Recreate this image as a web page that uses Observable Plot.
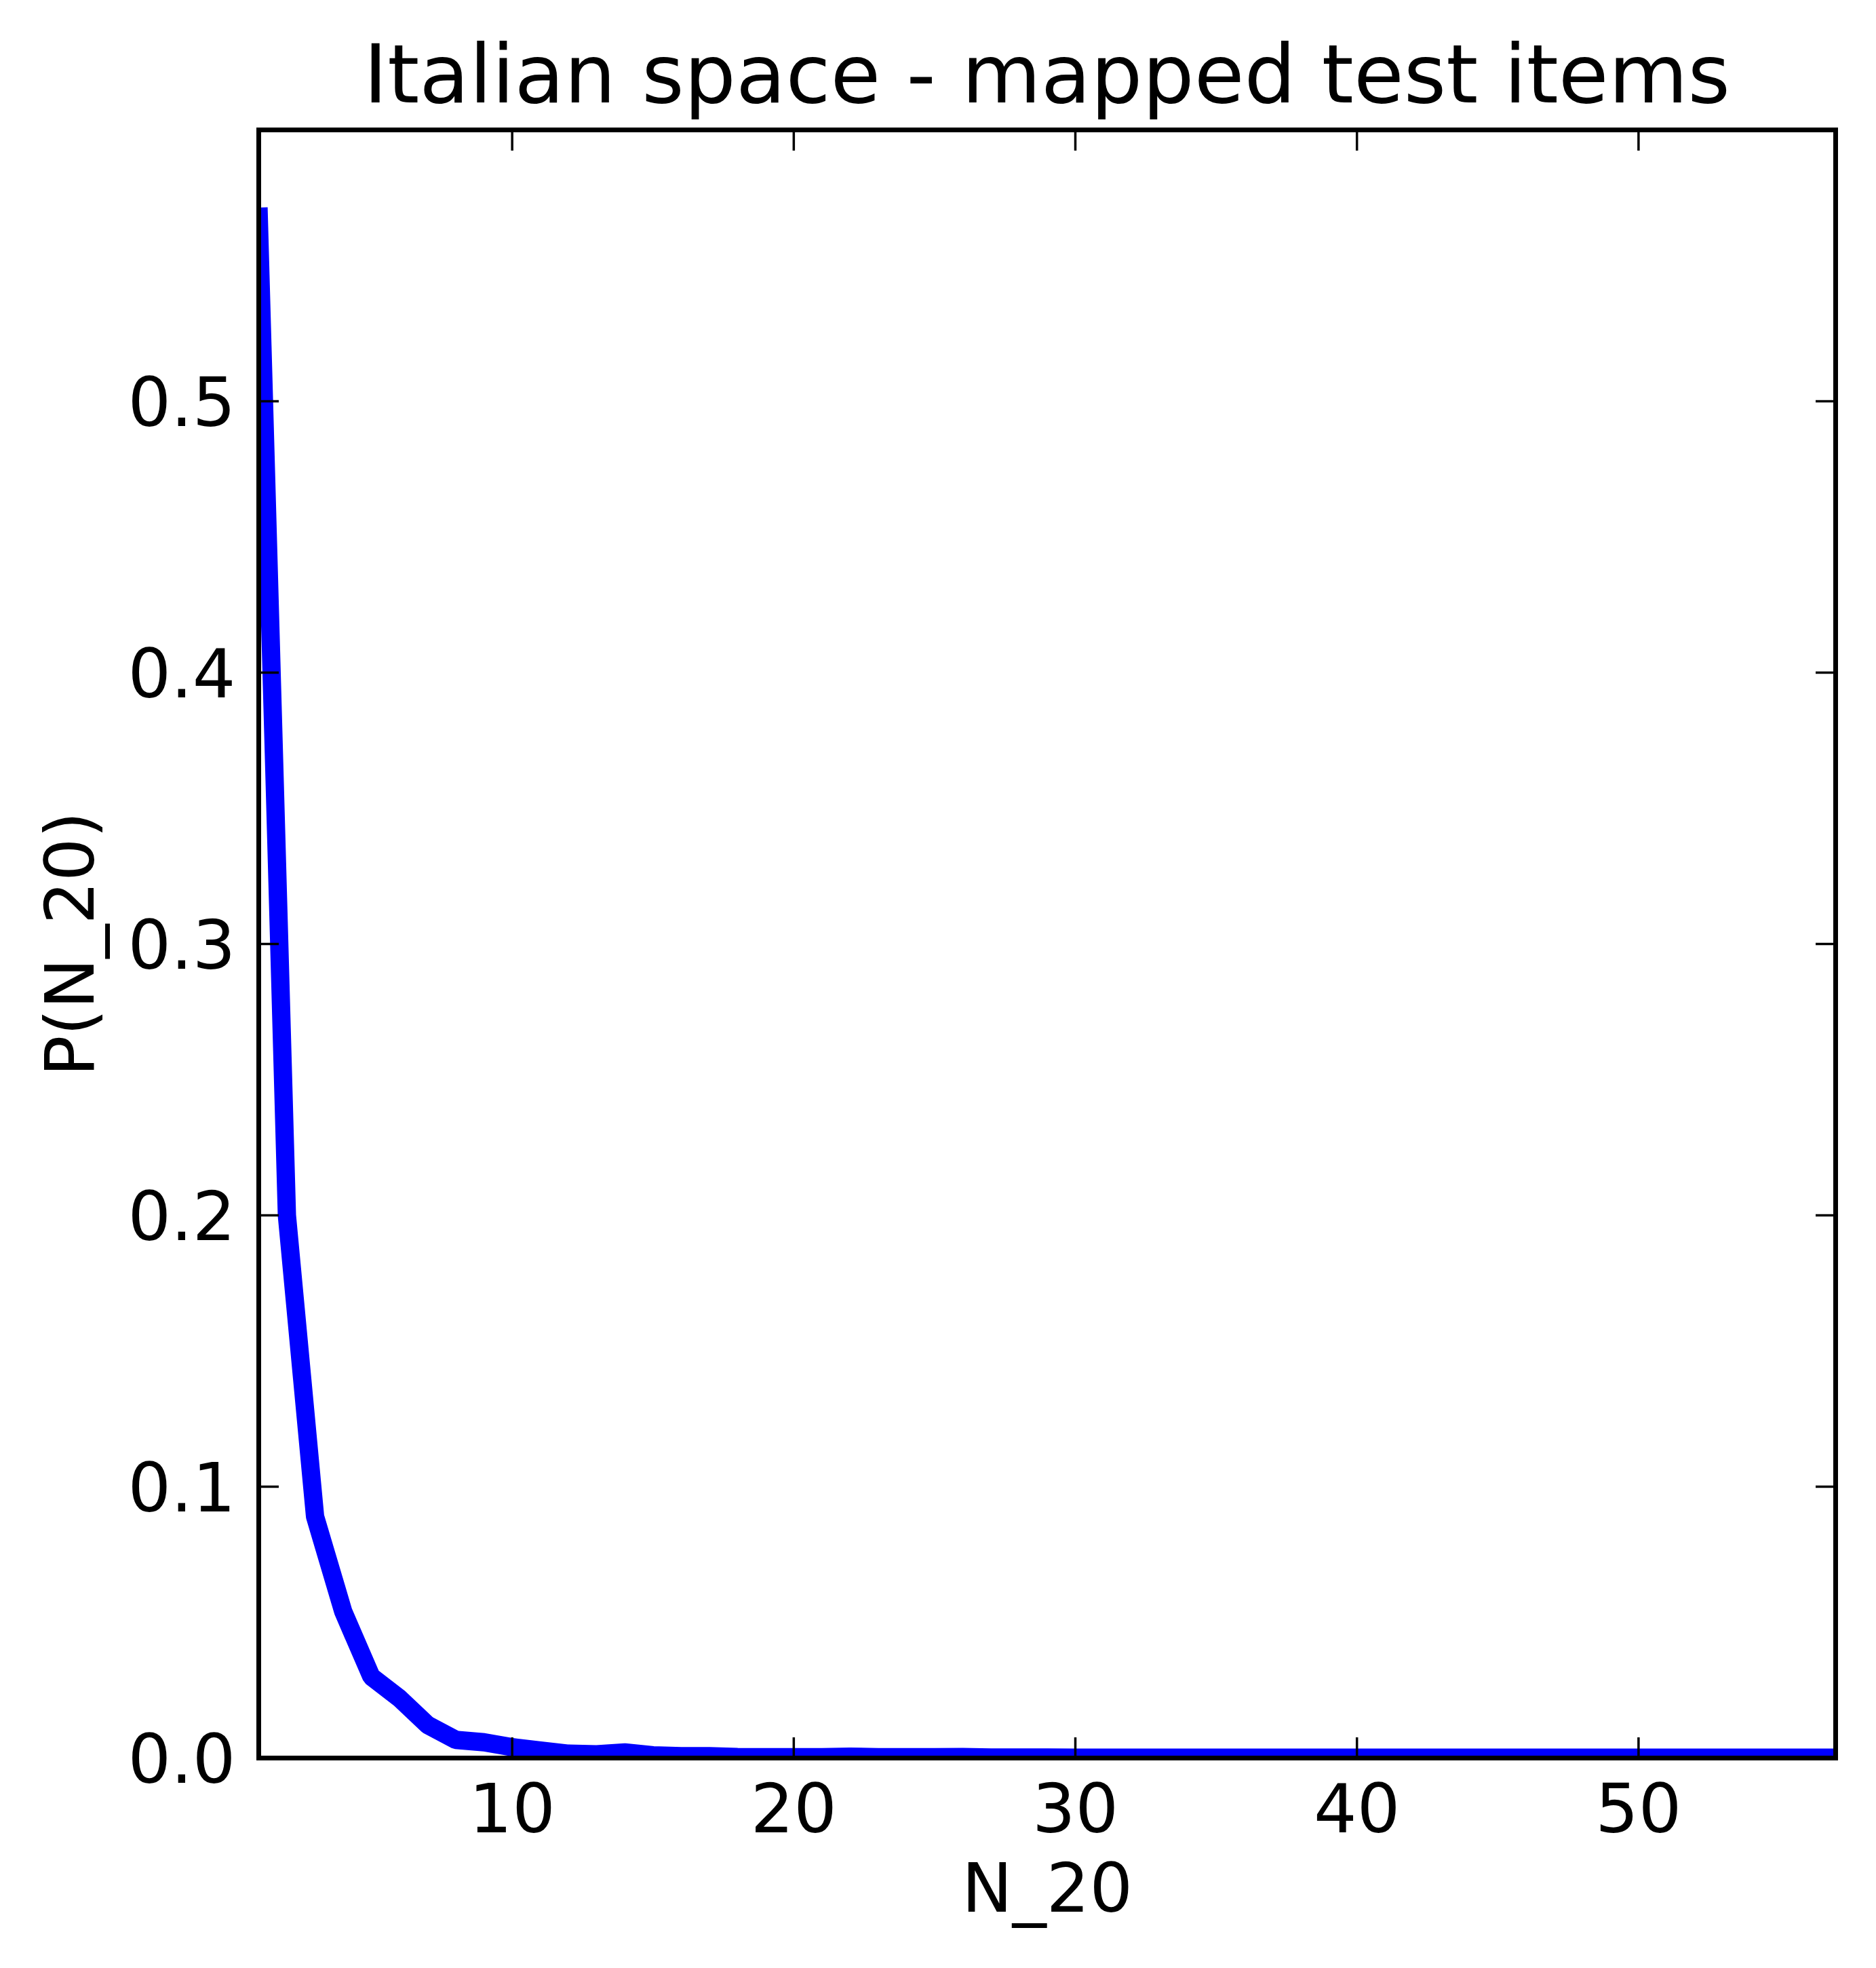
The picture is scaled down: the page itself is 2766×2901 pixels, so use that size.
<!DOCTYPE html>
<html>
<head>
<meta charset="utf-8">
<script src="https://cdn.jsdelivr.net/npm/d3@7"></script>
<script src="https://cdn.jsdelivr.net/npm/@observablehq/plot@0.6"></script>
<style>
  html, body { margin: 0; padding: 0; background: white; }
  #wrap { width: 2766px; }
  #title {
    box-sizing: border-box;
    width: 2766px;
    height: 170px;
    padding: 50px 60px 0 381px;
    font-family: "DejaVu Sans", sans-serif;
    font-size: 120px;
    line-height: 120px;
    text-align: center;
    color: black;
    white-space: nowrap;
  }
</style>
</head>
<body>
<div id="wrap">
  <div id="title">Italian space - mapped test items</div>
  <div id="chart"></div>
</div>
<script>
// ---- data ----
const nValues = [
  1, 2, 3, 4, 5, 6, 7, 8, 9, 10,
  11, 12, 13, 14, 15, 16, 17, 18, 19, 20,
  21, 22, 23, 24, 25, 26, 27, 28, 29, 30,
  31, 32, 33, 34, 35, 36, 37, 38, 39, 40,
  41, 42, 43, 44, 45, 46, 47, 48, 49, 50,
  51, 52, 53, 54, 55, 56, 57
];
const pValues = [
  0.568, 0.200, 0.089, 0.054, 0.030, 0.022, 0.0122, 0.0067, 0.0058, 0.0040,
  0.0028, 0.0016, 0.0014, 0.0021, 0.0010, 0.0007, 0.0007, 0.0004, 0.0003, 0.0003,
  0.0003, 0.0005, 0.0003, 0.0003, 0.0003, 0.0004, 0.0002, 0.0002, 0.0002, 0.0001,
  0.0001, 0.0001, 0.0001, 0.0001, 0.0001, 0.0001, 0.0001, 0.0001, 0.0001, 0.0001,
  0.0001, 0.0001, 0.0001, 0.0001, 0.0001, 0.0001, 0.0001, 0.0001, 0.0001, 0.0001,
  0.0001, 0.0001, 0.0001, 0.0001, 0.0001, 0.0001, 0.0001
];
const xTicks = [10, 20, 30, 40, 50];
const yTicks = [0, 0.1, 0.2, 0.3, 0.4, 0.5];
const xDomain = [1, 57];
const yDomain = [0, 0.6];
const xLabel = "N_20";
const yLabel = "P(N_20)";

const data = nValues.map((n, i) => ({n, p: pValues[i]}));

const FONT = "DejaVu Sans";
const FS = 100;

const chart = Plot.plot({
  width: 2766,
  height: 2731,
  marginTop: 21,
  marginBottom: 310,
  marginLeft: 381,
  marginRight: 60,
  style: {fontFamily: FONT, fontSize: FS + "px", background: "white", color: "black", overflow: "visible"},
  x: {domain: xDomain},
  y: {domain: yDomain},
  marks: [
    Plot.line(data, {
      x: "n", y: "p",
      stroke: "#0000ff", strokeWidth: 27,
      strokeLinejoin: "miter", strokeLinecap: "square",
      clip: true
    }),
    // inward ticks on all four sides
    Plot.axisX(xTicks, {anchor: "bottom", tickSize: -30, strokeWidth: 3.5, fill: "none", label: null}),
    Plot.axisX(xTicks, {anchor: "top", tickSize: -30, strokeWidth: 3.5, fill: "none", label: null}),
    Plot.axisY(yTicks, {anchor: "left", tickSize: -30, strokeWidth: 3.5, fill: "none", label: null}),
    Plot.axisY(yTicks, {anchor: "right", tickSize: -30, strokeWidth: 3.5, fill: "none", label: null}),
    // tick labels
    Plot.axisX(xTicks, {anchor: "bottom", tickSize: 0, tickPadding: 38, fontSize: FS, fontFamily: FONT, fontVariant: "normal", fill: "black", label: null}),
    Plot.axisY(yTicks, {anchor: "left", tickSize: 0, tickPadding: 34, dy: 4, fontSize: FS, fontFamily: FONT, fontVariant: "normal", fill: "black", label: null, tickFormat: d => d.toFixed(1)}),
    // axis titles
    Plot.text([xLabel], {text: d => d, frameAnchor: "bottom", dy: 194, textAnchor: "middle", lineAnchor: "middle", fontSize: FS, fontFamily: FONT, fill: "black"}),
    Plot.text([yLabel], {text: d => d, frameAnchor: "left", dx: -276, rotate: -90, textAnchor: "middle", lineAnchor: "middle", fontSize: FS, fontFamily: FONT, fill: "black"}),
    Plot.frame({stroke: "black", strokeWidth: 7})
  ]
});
document.getElementById("chart").appendChild(chart);
</script>
</body>
</html>
